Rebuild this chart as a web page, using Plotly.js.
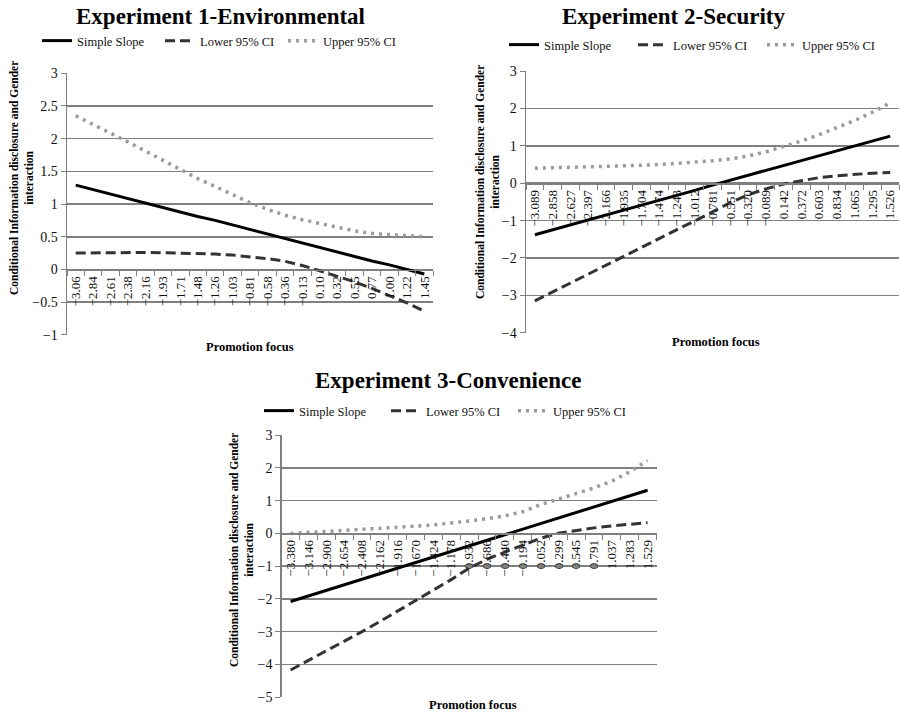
<!DOCTYPE html>
<html>
<head>
<meta charset="utf-8">
<script src="https://cdn.plot.ly/plotly-3.0.1.min.js"></script>
<style>html,body{margin:0;padding:0;background:#fff}#chart{width:900px;height:716px}</style>
</head>
<body>
<div id="chart"></div>
<script>
// ---------- Data ----------
const promo1 = ['−3.06','−2.84','−2.61','−2.38','−2.16','−1.93','−1.71','−1.48','−1.26','−1.03','−0.81','−0.58','−0.36','−0.13','0.10','0.32','0.55','0.77','1.00','1.22','1.45'];
const slope1 = [1.29,1.22,1.15,1.09,1.02,0.95,0.88,0.81,0.75,0.68,0.61,0.54,0.47,0.41,0.34,0.27,0.20,0.13,0.07,0.00,-0.07];
const lower1 = [0.25,0.255,0.26,0.26,0.26,0.255,0.25,0.245,0.235,0.22,0.195,0.165,0.125,0.06,-0.02,-0.10,-0.19,-0.29,-0.40,-0.51,-0.64];
const upper1 = [2.35,2.22,2.08,1.95,1.81,1.67,1.52,1.39,1.27,1.14,1.02,0.92,0.83,0.76,0.70,0.64,0.59,0.55,0.53,0.51,0.50];

const promo2 = ['−3.089','−2.858','−2.627','−2.397','−2.166','−1.935','−1.704','−1.474','−1.243','−1.012','−0.781','−0.551','−0.320','−0.089','0.142','0.372','0.603','0.834','1.065','1.295','1.526'];
const slope2 = [-1.38,-1.25,-1.12,-0.98,-0.85,-0.72,-0.59,-0.46,-0.32,-0.19,-0.05,0.08,0.21,0.34,0.47,0.60,0.73,0.86,1.00,1.13,1.26];
const lower2 = [-3.15,-2.91,-2.66,-2.42,-2.19,-1.95,-1.71,-1.47,-1.24,-1.01,-0.76,-0.52,-0.31,-0.15,-0.02,0.07,0.15,0.20,0.24,0.27,0.29];
const upper2 = [0.40,0.41,0.42,0.43,0.44,0.46,0.48,0.50,0.53,0.56,0.60,0.65,0.73,0.84,0.98,1.13,1.30,1.48,1.68,1.90,2.15];

const promo3 = ['−3.380','−3.146','−2.900','−2.654','−2.408','−2.162','−1.916','−1.670','−1.424','−1.178','−0.932','−0.686','−0.440','−0.194','0.052','0.299','0.545','0.791','1.037','1.283','1.529'];
const slope3 = [-2.08,-1.91,-1.74,-1.57,-1.40,-1.23,-1.06,-0.89,-0.72,-0.55,-0.38,-0.21,-0.04,0.13,0.30,0.47,0.64,0.81,0.98,1.15,1.32];
const lower3 = [-4.17,-3.88,-3.58,-3.29,-3.00,-2.69,-2.37,-2.05,-1.73,-1.41,-1.06,-0.79,-0.57,-0.36,-0.15,0.01,0.10,0.17,0.23,0.28,0.33];
const upper3 = [0.00,0.03,0.05,0.08,0.11,0.14,0.18,0.22,0.26,0.31,0.38,0.45,0.54,0.66,0.88,1.05,1.21,1.39,1.60,1.88,2.23];

const seriesNames = ['Simple Slope','Lower 95% CI','Upper 95% CI'];
const panelTitles = ['Experiment 1-Environmental','Experiment 2-Security','Experiment 3-Convenience'];
const yTitle = 'Conditional Information disclosure and Gender<br>interaction';
const xTitle = 'Promotion focus';

// ---------- Styling ----------
const FONT = '"Liberation Serif", "Times New Roman", serif';
const GRID = '#808080';
const styles = [
  {color:'#000000', width:3, dash:'solid'},
  {color:'#333333', width:3, dash:'10px,5px'},
  {color:'#9a9a9a', width:3.5, dash:'3px,5px'}
];

const panels = [
  {x:promo1, ys:[slope1,lower1,upper1], xa:'x', ya:'y', leg:'legend'},
  {x:promo2, ys:[slope2,lower2,upper2], xa:'x2', ya:'y2', leg:'legend2'},
  {x:promo3, ys:[slope3,lower3,upper3], xa:'x3', ya:'y3', leg:'legend3'}
];

const traces = [];
panels.forEach(p => {
  p.ys.forEach((y, k) => {
    traces.push({
      type:'scatter', mode:'lines', x:p.x, y:y, name:seriesNames[k],
      xaxis:p.xa, yaxis:p.ya, legend:p.leg,
      line:Object.assign({shape:'linear'}, styles[k]),
      hoverinfo:'skip'
    });
  });
});

function xaxisDef(domain, pos){
  return {
    type:'category', domain:domain, anchor:'free', position:pos,
    range:[-0.5,20.5], tickmode:'linear', tick0:0, dtick:1, tickson:'boundaries',
    ticks:'outside', ticklen:5, tickcolor:GRID,
    showline:true, linecolor:GRID, linewidth:1.5, showgrid:false, zeroline:false,
    tickangle:-90, tickfont:{family:FONT, size:13, color:'#111'}, automargin:false, fixedrange:true
  };
}
function yaxisDef(domain, range, dtick, xa){
  return {
    domain:domain, range:range, dtick:dtick, tick0:0, anchor:xa, showgrid:true, gridcolor:GRID, gridwidth:1.5,
    zeroline:false, showline:true, linecolor:GRID, linewidth:1.5, ticks:'outside', ticklen:5, tickcolor:GRID,
    tickfont:{family:FONT, size:14, color:'#111'}, automargin:false, fixedrange:true
  };
}

const d1y = [0.532, 0.898], d2y = [0.535, 0.901], d3y = [0.026, 0.3925];
const legendBase = {orientation:'h', xanchor:'left', yanchor:'middle', bgcolor:'rgba(0,0,0,0)',
  font:{family:FONT, size:12.5, color:'#111'}, itemwidth:30, tracegroupgap:0, traceorder:'normal'};

const ann = [];
const titlePos = [[220,17],[673,17],[448,380]];
titlePos.forEach((tp,i)=>ann.push({text:'<b>'+panelTitles[i]+'</b>', xref:'paper', yref:'paper',
  x:tp[0]/900, y:1-tp[1]/716, xanchor:'center', yanchor:'middle', showarrow:false,
  font:{family:FONT, size:23, color:'#000'}}));
const xtPos = [[250,347],[716,342],[473,705]];
xtPos.forEach(tp=>ann.push({text:'<b>'+xTitle+'</b>', xref:'paper', yref:'paper',
  x:tp[0]/900, y:1-tp[1]/716, xanchor:'center', yanchor:'middle', showarrow:false,
  font:{family:FONT, size:12.5, color:'#000'}}));
const ytPos = [[21,178],[487,182],[241,550]];
ytPos.forEach(tp=>ann.push({text:'<b>'+yTitle+'</b>', xref:'paper', yref:'paper', textangle:-90,
  x:tp[0]/900, y:1-tp[1]/716, xanchor:'center', yanchor:'middle', showarrow:false, align:'center',
  font:{family:FONT, size:11.5, color:'#000'}}));

const layout = {
  width:900, height:716, margin:{l:0,r:0,t:0,b:0}, paper_bgcolor:'#fff', plot_bgcolor:'#fff',
  font:{family:FONT, color:'#111'},
  showlegend:true,
  xaxis: xaxisDef([67/900, 433/900], d1y[0] + 0.25*(d1y[1]-d1y[0])),
  yaxis: yaxisDef(d1y, [-1.004,3.004], 0.5, 'x'),
  xaxis2: xaxisDef([526/900, 0.999], d2y[0] + (4/7)*(d2y[1]-d2y[0])),
  yaxis2: yaxisDef(d2y, [-4.007,3.007], 1, 'x2'),
  xaxis3: xaxisDef([281.7/900, 656.5/900], d3y[0] + (5/8)*(d3y[1]-d3y[0])),
  yaxis3: yaxisDef(d3y, [-5.008,3.008], 1, 'x3'),
  legend: Object.assign({}, legendBase, {x:37/900, y:1-41/716, entrywidth:78}),
  legend2: Object.assign({}, legendBase, {x:504/900, y:1-45/716, entrywidth:84}),
  legend3: Object.assign({}, legendBase, {x:259/900, y:1-411/716, entrywidth:82}),
  annotations: ann
};

Plotly.newPlot('chart', traces, layout, {displayModeBar:false, staticPlot:true});
</script>
</body>
</html>
